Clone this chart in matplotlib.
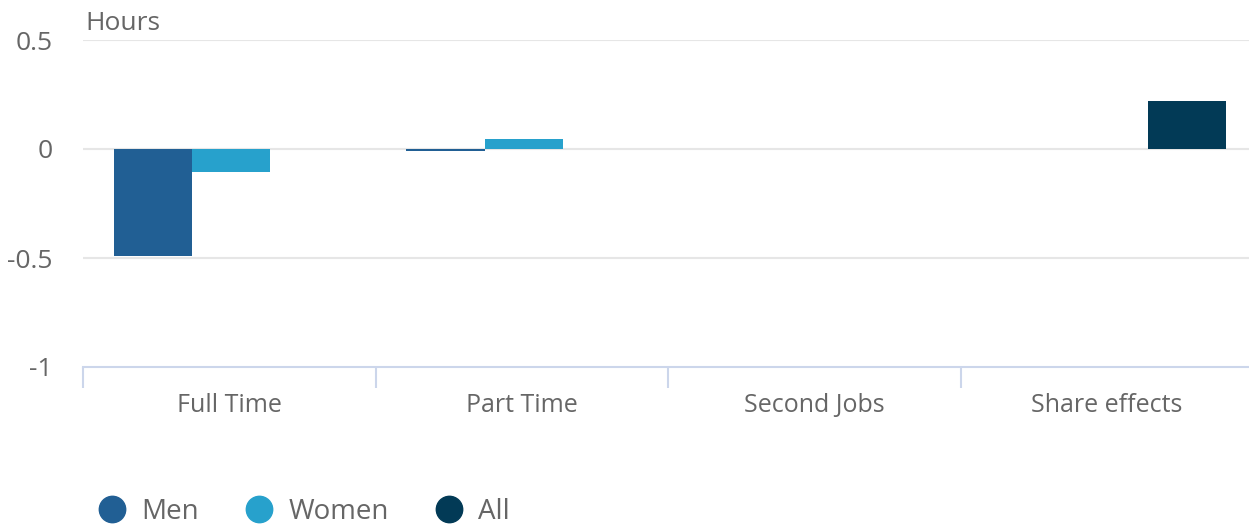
import matplotlib.pyplot as plt
import numpy as np
from matplotlib.lines import Line2D

plt.rcParams['font.family'] = ['Open Sans', 'DejaVu Sans']

categories = ['Full Time', 'Part Time', 'Second Jobs', 'Share effects']
men = [-0.49, -0.01, 0.0, 0.0]
women = [-0.105, 0.045, 0.0, 0.0]
all_workers = [0.0, 0.0, 0.0, 0.22]
series_names = ['Men', 'Women', 'All']
colors = ['#215f94', '#27a1cc', '#023a56']

text_color = '#666666'
axis_color = '#ccd6eb'
grid_color = '#e6e6e6'

fig = plt.figure(figsize=(12.49, 5.26), dpi=100)
ax = fig.add_axes([83 / 1249, 1 - 367 / 526, 1170 / 1249, 327 / 526])

ind = np.arange(len(categories))
width = 0.2667
for k, (vals, col) in enumerate(zip([men, women, all_workers], colors)):
    ax.bar(ind + (k - 1) * width + 0.006, vals, width, color=col, zorder=3)

ax.set_xlim(-0.5, len(categories) - 0.5)
ax.set_ylim(-1, 0.5)
ax.set_yticks([-1, -0.5, 0, 0.5])
ax.set_yticklabels(['-1', '-0.5', '0', '0.5'])
for y in [-0.5, 0, 0.5]:
    ax.axhline(y, color=grid_color, lw=1.5, zorder=1)

for s in ['top', 'right', 'left']:
    ax.spines[s].set_visible(False)
ax.spines['bottom'].set_color(axis_color)
ax.spines['bottom'].set_linewidth(1.5)

ax.set_xticks(np.arange(len(categories) + 1) - 0.5)
ax.set_xticklabels([])
ax.tick_params(axis='x', which='major', length=15, width=1.5, color=axis_color)
ax.set_xticks(ind, minor=True)
ax.set_xticklabels(categories, minor=True)
ax.tick_params(axis='x', which='minor', length=0, pad=19, labelsize=18, labelcolor=text_color)
ax.tick_params(axis='y', length=0, pad=22, labelsize=19, labelcolor=text_color)

fig.text(85 / 1249, 1 - 23 / 526, 'Hours', fontsize=19, color=text_color, va='center', ha='left')

handles = [Line2D([], [], marker='o', ls='none', markersize=19, color=c) for c in colors]
fig.legend(handles, series_names, loc='center left', bbox_to_anchor=(98 / 1249, 1 - 512 / 526),
           ncol=3, frameon=False, fontsize=20, labelcolor=text_color, handlelength=1.0,
           handletextpad=0.55, columnspacing=1.68, borderaxespad=0, borderpad=0)

fig.savefig('out.png', dpi=100)
